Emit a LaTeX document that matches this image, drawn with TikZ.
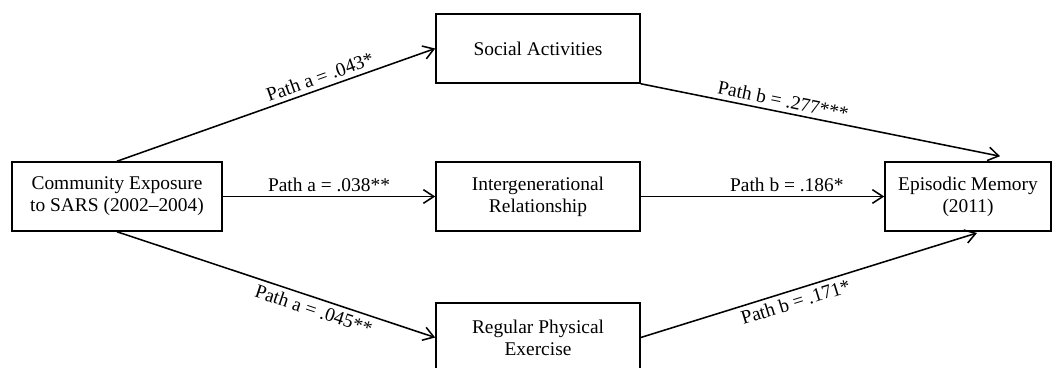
\documentclass[tikz,border=0pt]{standalone}
\usepackage{fontspec}
\setmainfont{Liberation Serif}
\usetikzlibrary{arrows.meta,positioning,calc}

\begin{document}
\begin{tikzpicture}[
    block/.style={draw, line width=1.1pt, align=center, minimum width=5.1cm, minimum height=1.725cm, font=\fontsize{13.8}{15.5}\selectfont},
    arrow/.style={-{Straight Barb[length=2.6mm, width=3.4mm]}, line width=1.1pt},
    lbl/.style={font=\fontsize{13.8}{15.5}\selectfont, sloped, inner sep=3pt}
  ]
    \useasboundingbox (0,0) rectangle (26.425,9.175);

    \node[block, minimum width=5.25cm] (sars)   at (2.925,4.2625)  {Community Exposure\\to SARS (2002--2004)};
    \node[block] (social)   at (13.45,7.9625) {Social Activities};
    \node[block] (intergen) at (13.45,4.2625) {Intergenerational\\Relationship};
    \node[block] (exercise) at (13.45,0.7375) {Regular Physical\\Exercise};
    \node[block, minimum width=4.15cm] (memory) at (24.2,4.2625) {Episodic Memory\\(2011)};

    \coordinate (memtop) at ($(memory.north)+(0.8,0.125)$);
    \coordinate (membot) at ($(memory.south)+(0.225,-0.03)$);

    \draw[arrow] (sars.north) -- node[lbl, above, pos=0.65]{Path a = .043*} (social.west);
    \draw[arrow] (sars.east) -- node[lbl, above, pos=0.5]{Path a = .038**} (intergen.west);
    \draw[arrow] (sars.south) -- node[lbl, below, pos=0.63]{Path a = .045**} (exercise.west);
    \draw[arrow] (social.south east) -- node[lbl, above, pos=0.39]{Path b = .277***} (memtop);
    \draw[arrow] (intergen.east) -- node[lbl, above, pos=0.6]{Path b = .186*} (memory.west);
    \draw[arrow] (exercise.east) -- node[lbl, below, pos=0.45]{Path b = .171*} (membot);
  \end{tikzpicture}
\end{document}
